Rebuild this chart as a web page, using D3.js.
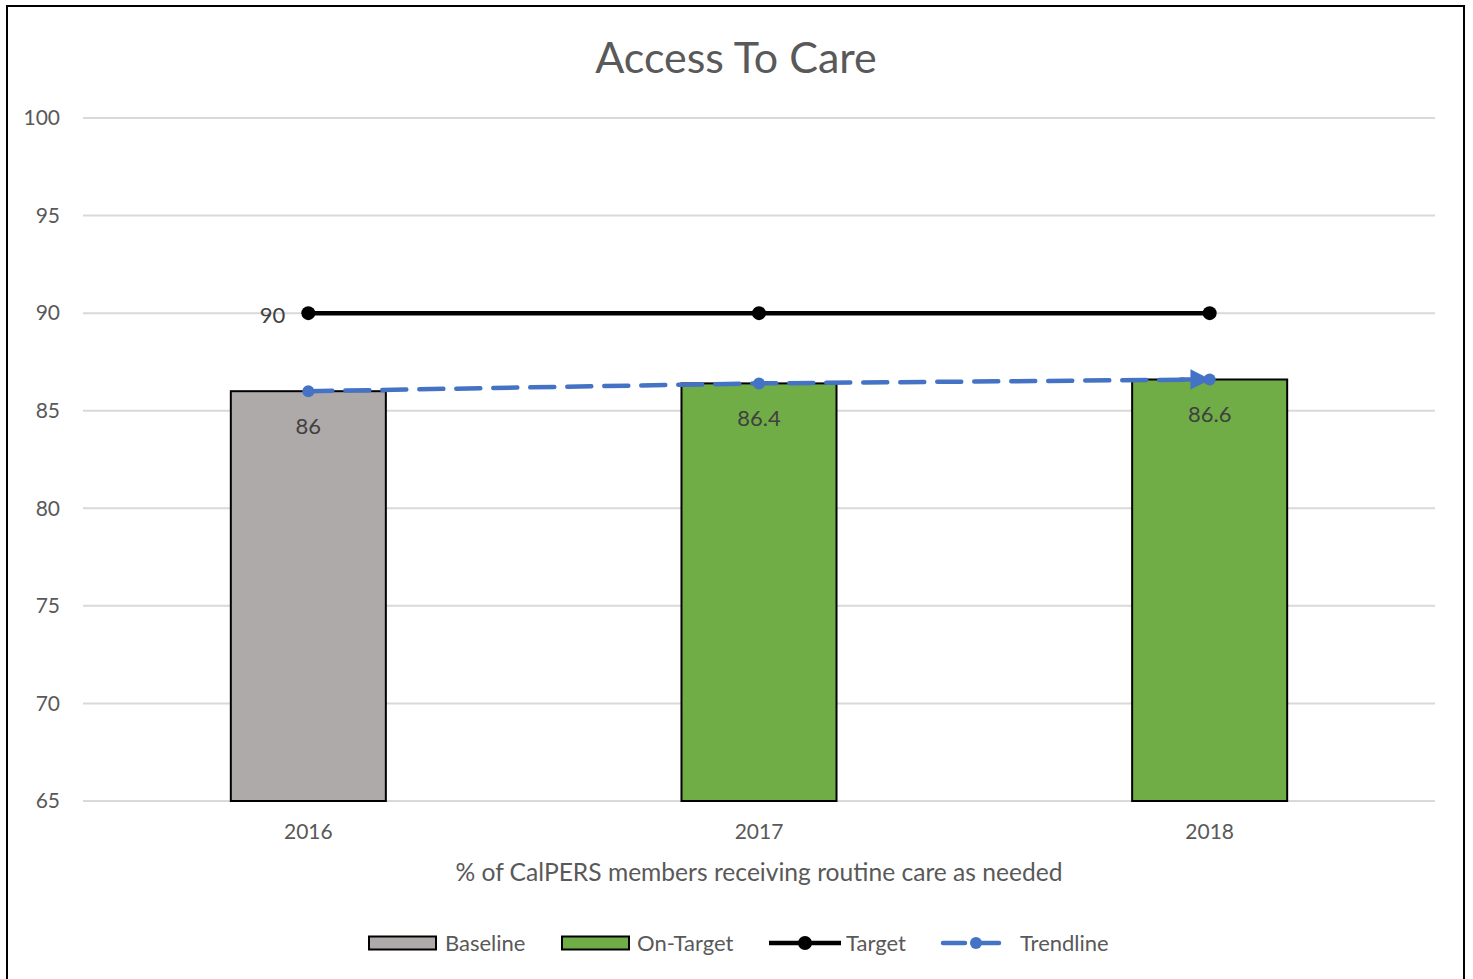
<!DOCTYPE html>
<html><head><meta charset="utf-8">
<script src="https://cdn.jsdelivr.net/npm/d3@7"></script>
<style>body{margin:0;background:#fff;}svg{display:block;}</style>
</head><body>
<script>
const categories = ["2016", "2017", "2018"];
const barValues = [86, 86.4, 86.6];
const barSeries = ["Baseline", "On-Target", "On-Target"];
const targetValues = [90, 90, 90];
const trendValues = [86, 86.4, 86.6];
const yTicks = [65, 70, 75, 80, 85, 90, 95, 100];
const legendItems = ["Baseline", "On-Target", "Target", "Trendline"];

const W = 1473, H = 979;
const font = "Lato, 'Open Sans', sans-serif";
const colors = {"Baseline": "#aeaaaa", "On-Target": "#70ad47"};
const svg = d3.select("body").append("svg").attr("width", W).attr("height", H);
svg.append("rect").attr("x", 0).attr("y", 0).attr("width", W).attr("height", H).attr("fill", "#fff");
svg.append("rect").attr("x", 7).attr("y", 6).attr("width", 1457).attr("height", 990)
  .attr("fill", "none").attr("stroke", "#000").attr("stroke-width", 2);

const x = d3.scaleBand().domain(categories).range([83, 1435]).paddingInner(0.656).paddingOuter(0.328);
const y = d3.scaleLinear().domain([65, 100]).range([801, 118]);
const cx = d => x(d) + x.bandwidth() / 2;

// gridlines
svg.append("g").selectAll("line").data(yTicks).join("line")
  .attr("x1", 83).attr("x2", 1435).attr("y1", d => y(d)).attr("y2", d => y(d))
  .attr("stroke", "#d9d9d9").attr("stroke-width", 2);

// y labels
svg.append("g").selectAll("text").data(yTicks).join("text")
  .attr("x", 60).attr("y", d => y(d)).attr("dy", "0.35em").attr("text-anchor", "end")
  .attr("font-family", font).attr("font-size", 21).attr("fill", "#595959").text(d => d);

// bars
svg.append("g").selectAll("rect").data(categories).join("rect")
  .attr("x", d => x(d)).attr("width", x.bandwidth())
  .attr("y", (d, i) => y(barValues[i])).attr("height", (d, i) => y(65) - y(barValues[i]))
  .attr("fill", (d, i) => colors[barSeries[i]]).attr("stroke", "#000").attr("stroke-width", 2);

// bar labels
svg.append("g").selectAll("text").data(categories).join("text")
  .attr("x", d => cx(d)).attr("y", (d, i) => y(barValues[i]) + 35).attr("dy", "0.35em").attr("text-anchor", "middle")
  .attr("font-family", font).attr("font-size", 22).attr("fill", "#404040")
  .text((d, i) => barValues[i]);

// target line
const line = d3.line().x(d => cx(d[0])).y(d => y(d[1]));
svg.append("path").datum(categories.map((c, i) => [c, targetValues[i]])).attr("d", line)
  .attr("fill", "none").attr("stroke", "#000").attr("stroke-width", 4.5);
svg.append("g").selectAll("circle").data(categories).join("circle")
  .attr("cx", d => cx(d)).attr("cy", (d, i) => y(targetValues[i])).attr("r", 7).attr("fill", "#000");
svg.append("text").attr("x", cx(categories[0]) - 23).attr("y", y(targetValues[0]) + 2).attr("dy", "0.35em")
  .attr("text-anchor", "end").attr("font-family", font).attr("font-size", 22).attr("fill", "#404040")
  .text(targetValues[0]);

// trendline
const tp = categories.map((c, i) => [c, trendValues[i]]);
svg.append("defs").append("marker").attr("id", "arr").attr("viewBox", "0 0 10 10")
  .attr("refX", 9).attr("refY", 5).attr("markerWidth", 4.5).attr("markerHeight", 4.5)
  .attr("markerUnits", "strokeWidth").attr("orient", "auto")
  .append("path").attr("d", "M0,0 L10,5 L0,10 Z").attr("fill", "#4472c4");
svg.append("path").datum(tp).attr("d", line)
  .attr("fill", "none").attr("stroke", "#4472c4").attr("stroke-width", 4.5)
  .attr("stroke-dasharray", "24,13").attr("stroke-linecap", "round");
const last = tp[tp.length - 1];
svg.append("path")
  .attr("d", `M${cx(last[0]) - 30},${y(last[1])} L${cx(last[0]) - 1},${y(last[1])}`)
  .attr("stroke", "#4472c4").attr("stroke-width", 4.5).attr("fill", "none")
  .attr("marker-end", "url(#arr)");
svg.append("g").selectAll("circle").data(tp).join("circle")
  .attr("cx", d => cx(d[0])).attr("cy", d => y(d[1])).attr("r", 6).attr("fill", "#4472c4");

// x labels
svg.append("g").selectAll("text").data(categories).join("text")
  .attr("x", d => cx(d)).attr("y", 832).attr("dy", "0.35em").attr("text-anchor", "middle")
  .attr("font-family", font).attr("font-size", 21).attr("fill", "#595959").text(d => d);

// axis title
svg.append("text").attr("x", 759).attr("y", 872).attr("dy", "0.35em").attr("text-anchor", "middle")
  .attr("font-family", font).attr("font-size", 24.6).attr("fill", "#595959")
  .text("% of CalPERS members receiving routine care as needed");

// title
svg.append("text").attr("x", 736).attr("y", 58).attr("dy", "0.35em").attr("text-anchor", "middle")
  .attr("font-family", font).attr("font-size", 43).attr("fill", "#595959").text("Access To Care");

// legend
const ly = 943;
const lg = svg.append("g");
const lpos = [369, 562, 769, 943];
const ltext = [445, 637, 846, 1020];
legendItems.forEach((name, i) => {
  if (i < 2) {
    lg.append("rect").attr("x", lpos[i]).attr("y", ly - 6.5).attr("width", 67).attr("height", 13)
      .attr("fill", colors[name]).attr("stroke", "#000").attr("stroke-width", 2);
  } else if (name === "Target") {
    lg.append("line").attr("x1", lpos[i]).attr("x2", lpos[i] + 72).attr("y1", ly).attr("y2", ly)
      .attr("stroke", "#000").attr("stroke-width", 4.5);
    lg.append("circle").attr("cx", lpos[i] + 36).attr("cy", ly).attr("r", 7).attr("fill", "#000");
  } else {
    lg.append("line").attr("x1", lpos[i]).attr("x2", lpos[i] + 64).attr("y1", ly).attr("y2", ly)
      .attr("stroke", "#4472c4").attr("stroke-width", 4.5).attr("stroke-dasharray", "22,12")
      .attr("stroke-linecap", "round");
    lg.append("circle").attr("cx", lpos[i] + 33).attr("cy", ly).attr("r", 6).attr("fill", "#4472c4");
  }
  lg.append("text").attr("x", ltext[i]).attr("y", ly).attr("dy", "0.35em")
    .attr("font-family", font).attr("font-size", 22).attr("fill", "#595959").text(name);
});
</script>
</body></html>
